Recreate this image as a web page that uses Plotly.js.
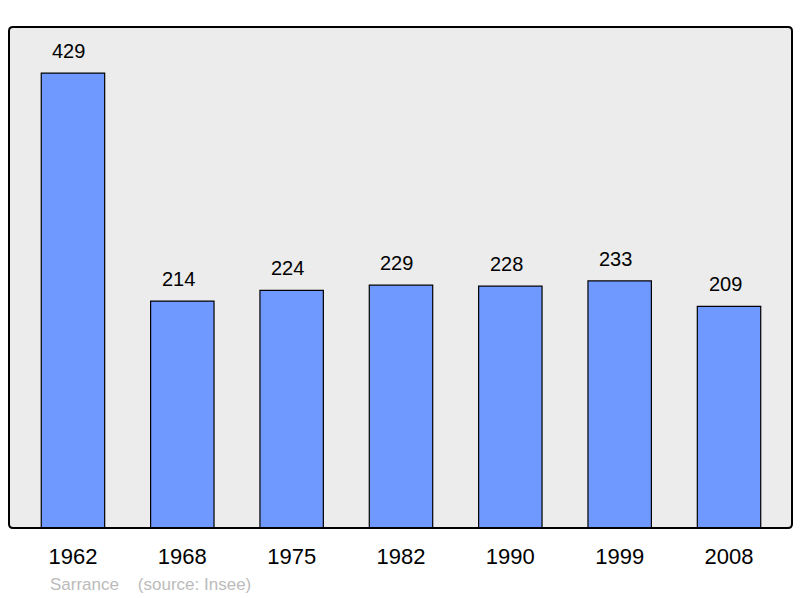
<!DOCTYPE html>
<html><head><meta charset="utf-8">
<script src="https://cdn.plot.ly/plotly-3.0.1.min.js"></script>
<style>body{margin:0;padding:0;background:#fff}#chart{width:800px;height:598px}</style>
</head><body><div id="chart"></div>
<script>
const years = ["1962","1968","1975","1982","1990","1999","2008"];
const population = [429,214,224,229,228,233,209];
const footerText = "Sarrance    (source: Insee)";

const FONT = 'Liberation Sans, Arial, sans-serif';
const annotations = years.map((y,i)=>({
  x:i, y:population[i], xref:'x', yref:'y', text:String(population[i]),
  showarrow:false, yanchor:'bottom', yshift:9, xshift:-4,
  font:{family:FONT, size:20, color:'#000'}
}));
annotations.push({
  xref:'paper', yref:'paper', x:0.05, y:-0.112, xanchor:'left', yanchor:'middle',
  text:footerText, showarrow:false,
  font:{family:FONT, size:17, color:'#bbbbbb'}
});

// rounded border path in paper coords (plot area 783 x 501 px, radius ~4px)
const rx = 4/783, ry = 4/501;
const borderPath = `M ${rx},0 L ${1-rx},0 Q 1,0 1,${ry} L 1,${1-ry} Q 1,1 ${1-rx},1 L ${rx},1 Q 0,1 0,${1-ry} L 0,${ry} Q 0,0 ${rx},0 Z`;

Plotly.newPlot('chart', [{
  type:'bar', x:years, y:population, width:0.58,
  marker:{color:'#7099ff', line:{color:'#000', width:1.2}},
  hoverinfo:'none'
}], {
  width:800, height:598,
  margin:{l:9, r:8, t:27, b:70},
  paper_bgcolor:'#fff', plot_bgcolor:'#ececec',
  showlegend:false,
  xaxis:{type:'category', range:[-0.585,6.576], showgrid:false, zeroline:false,
    ticks:'', ticklabelstandoff:13,
    tickfont:{family:FONT, size:22, color:'#000'}},
  yaxis:{range:[0,472.4], showgrid:false, zeroline:false, showticklabels:false, ticks:''},
  annotations:annotations,
  shapes:[{type:'path', xref:'paper', yref:'paper', path:borderPath,
    line:{color:'#000', width:2}, fillcolor:'rgba(0,0,0,0)', layer:'above'}]
}, {staticPlot:true});
</script></body></html>
